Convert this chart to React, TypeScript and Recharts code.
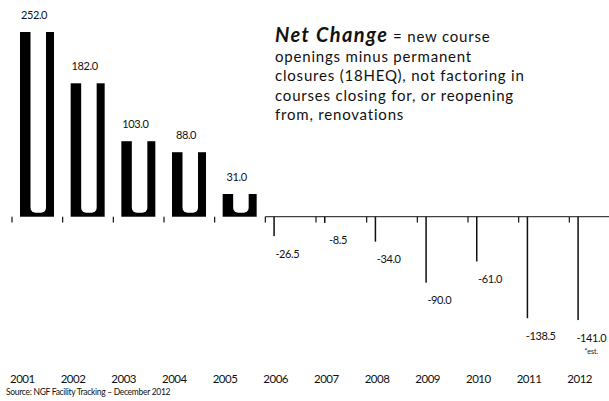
import React from "react";
import { BarChart, Bar, XAxis, YAxis, ReferenceLine, LabelList } from "recharts";

const years = ["2001", "2002", "2003", "2004", "2005", "2006", "2007", "2008", "2009", "2010", "2011", "2012"];
const netChange = [252, 182, 103, 88, 31, -26.5, -8.5, -34, -90, -61, -138.5, -141];
const labelNotes = ["", "", "", "", "", "", "", "", "", "", "", "*est."];

const noteTitle = "Net Change";
const noteLines = [
  " = new course",
  "openings minus permanent",
  "closures (18HEQ), not factoring in",
  "courses closing for, or reopening",
  "from, renovations",
];
const sourceText = "Source: NGF Facility Tracking – December 2012";

const data = years.map((year, i) => ({ year, value: netChange[i], note: labelNotes[i] }));

const FONT = "Lato, 'Open Sans', sans-serif";

// positive bars look like a "U" in the scan, negative ones only keep their left edge
function NetBar(props: any) {
  const { x, y, width, height, payload } = props;
  const top = Math.min(y, y + height);
  const h = Math.abs(height);
  if (payload.value >= 0) {
    return (
      <g>
        <rect x={x} y={top} width={width} height={h} fill="#000" />
        <rect x={x + 10.5} y={top - 6} width={width - 18.5} height={h + 2} rx={5} fill="#fff" />
      </g>
    );
  }
  return <rect x={x} y={top} width={1.5} height={h} fill="#111" />;
}

function ValueLabel(props: any) {
  const { x, y, width, height, value, index } = props;
  const cx = x + width / 2 - 3;
  const note = data[index]?.note;
  if (value >= 0) {
    const top = Math.min(y, y + height);
    return (
      <text x={cx} y={top - 13} textAnchor="middle" fontSize={11} letterSpacing={-0.4} fill="#111" fontFamily={FONT}>
        {value.toFixed(1)}
      </text>
    );
  }
  const end = Math.max(y, y + height);
  return (
    <g>
      <text x={cx} y={end + 21.5} textAnchor="middle" fontSize={11} letterSpacing={-0.4} fill="#111" fontFamily={FONT}>
        {value.toFixed(1)}
      </text>
      {note ? (
        <text x={cx} y={end + 34} textAnchor="middle" fontSize={7} fill="#111" fontFamily={FONT}>
          {note}
        </text>
      ) : null}
    </g>
  );
}

function YearTick({ x, y, payload }: any) {
  return (
    <text x={x - 15} y={y + 41} textAnchor="middle" fontSize={11.5} letterSpacing={-0.5} fill="#111" fontFamily={FONT}>
      {payload.value}
    </text>
  );
}

export default function App() {
  return (
    <div style={{ position: "absolute", left: 0, top: 0, width: 609, height: 401, overflow: "hidden", background: "#fff" }}>
      <BarChart
        width={620}
        height={401}
        data={data}
        margin={{ top: 32, right: 0, left: 12, bottom: 37 }}
        barSize={34}
      >
        <XAxis dataKey="year" axisLine={false} tickLine={false} interval={0} height={30} tick={<YearTick />} />
        <YAxis hide domain={[-160, 252]} allowDataOverflow />
        <ReferenceLine
          segment={[{ x: "2006", y: 0 }, { x: "2012", y: 0 }]}
          position="start"
          stroke="#111"
          strokeWidth={1}
        />
        <ReferenceLine
          segment={[{ x: "2011", y: 0 }, { x: "2012", y: 0 }]}
          position="end"
          stroke="#111"
          strokeWidth={1}
        />
        {years.map((yr) => (
          <ReferenceLine
            key={yr}
            segment={[{ x: yr, y: 0 }, { x: yr, y: -8 }]}
            position="start"
            stroke="#111"
            strokeWidth={1.2}
          />
        ))}
        <Bar dataKey="value" shape={<NetBar />} isAnimationActive={false}>
          <LabelList dataKey="value" content={<ValueLabel />} />
        </Bar>
      </BarChart>
      <svg width={609} height={401} style={{ position: "absolute", left: 0, top: 0, pointerEvents: "none" }}>
        <text x={275} y={42} fontFamily={FONT} fill="#111">
          <tspan fontSize={20} fontWeight={700} fontStyle="italic" letterSpacing={1.4}>{noteTitle}</tspan>
          <tspan fontSize={15} letterSpacing={0.8}>{noteLines[0]}</tspan>
        </text>
        {noteLines.slice(1).map((line, i) => (
          <text key={i} x={275} y={62 + i * 19.3} fontSize={15} letterSpacing={0.8} fontFamily={FONT} fill="#111">
            {line}
          </text>
        ))}
        <text x={6} y={395} fontSize={8.5} letterSpacing={-0.3} fontFamily={FONT} fill="#111">
          {sourceText}
        </text>
      </svg>
    </div>
  );
}
